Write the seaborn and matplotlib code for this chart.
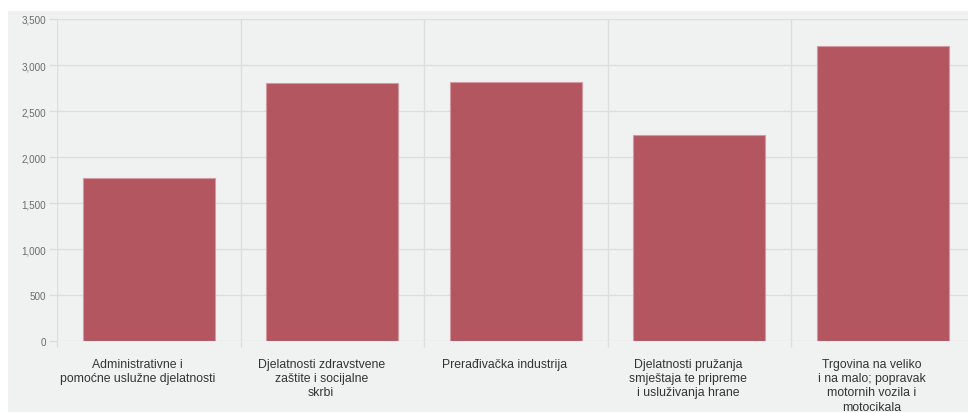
import matplotlib
matplotlib.use("Agg")
import matplotlib.pyplot as plt
import matplotlib.ticker as mticker
from matplotlib.patches import Rectangle
from matplotlib.transforms import ScaledTranslation
import seaborn as sns
import pandas as pd

categories = [
    "Administrativne i\npomoćne uslužne djelatnosti",
    "Djelatnosti zdravstvene\nzaštite i socijalne\nskrbi",
    "Prerađivačka industrija",
    "Djelatnosti pružanja\nsmještaja te pripreme\ni usluživanja hrane",
    "Trgovina na veliko\ni na malo; popravak\nmotornih vozila i\nmotocikala",
]
values = [1775, 2808, 2820, 2236, 3212]
y_ticks = [0, 500, 1000, 1500, 2000, 2500, 3000, 3500]

BG = "#f0f1f1"
BAR = "#b35660"
GRID = "#dcdddd"

sns.set_theme(style="white")
plt.rcParams["font.family"] = ["Liberation Sans", "DejaVu Sans"]

W, H = 968, 414
fig = plt.figure(figsize=(W / 100, H / 100), dpi=100)
fig.patch.set_facecolor("white")
fig.patches.append(Rectangle((8 / W, 1 / H), 1, (413 - 12) / H,
                             transform=fig.transFigure, facecolor=BG,
                             edgecolor="none", zorder=-10))

left, right = 57, 974.5
top, bottom = 20, 342.3
ax = fig.add_axes([left / W, (H - bottom) / H, (right - left) / W, (bottom - top) / H])
ax.set_facecolor(BG)

df = pd.DataFrame({"cat": categories, "val": values})
sns.barplot(data=df, x="cat", y="val", color=BAR, saturation=1, width=0.72,
            edgecolor="#d49aa1", linewidth=0.8, ax=ax, zorder=3)

ax.set_xlim(-0.5, len(categories) - 0.5)
ax.set_ylim(0, 3500)
ax.set_yticks(y_ticks)
ax.yaxis.set_major_formatter(mticker.FuncFormatter(lambda v, p: f"{int(v):,}"))
ax.set_xlabel("")
ax.set_ylabel("")

for s in ax.spines.values():
    s.set_visible(False)

ax.grid(False)
ax.yaxis.grid(True, color=GRID, linewidth=1, zorder=0)
ax.set_xticks([i - 0.5 for i in range(len(categories) + 1)], minor=True)
ax.xaxis.grid(True, which="minor", color=GRID, linewidth=1, zorder=0)
ax.set_axisbelow(True)

ax.tick_params(axis="y", length=6, width=1, color=GRID, labelsize=7.1,
               labelcolor="#6a6a6a", pad=2, left=True)
ax.tick_params(axis="x", which="major", length=0, labelsize=8.8,
               labelcolor="#333333", pad=12)
ax.tick_params(axis="x", which="minor", length=4.5, width=1, color=GRID, bottom=True)

offset = ScaledTranslation(-11 / 100, 0, fig.dpi_scale_trans)
for lab in ax.get_xticklabels():
    lab.set_transform(lab.get_transform() + offset)
    lab.set_linespacing(1.25)

fig.savefig("out.png", dpi=100, facecolor="white")
